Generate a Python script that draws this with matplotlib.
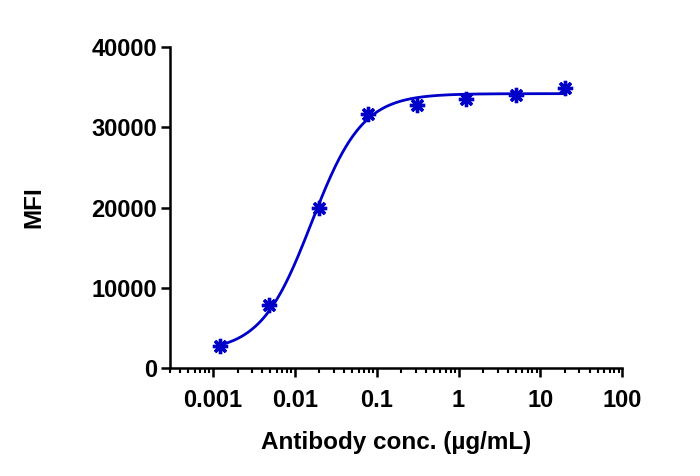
import numpy as np
import matplotlib
matplotlib.use('Agg')
import matplotlib.pyplot as plt
from matplotlib.ticker import LogLocator, FixedLocator, FixedFormatter, NullFormatter

# measured points
conc = [0.00122, 0.00488, 0.0195, 0.078, 0.3125, 1.25, 5, 20]
mfi = [2750, 7830, 19900, 31600, 32830, 33580, 34080, 34920]

# 4PL fit parameters
fit_bottom = 2000
fit_top = 34200
fit_ec50 = 0.016
fit_hill = 1.4

x_ticks = [0.001, 0.01, 0.1, 1, 10, 100]
x_tick_labels = ['0.001', '0.01', '0.1', '1', '10', '100']
y_ticks = [0, 10000, 20000, 30000, 40000]

plt.rcParams['font.family'] = ['Liberation Sans', 'DejaVu Sans']
plt.rcParams['font.weight'] = 'bold'

fig = plt.figure(figsize=(7, 4.76), dpi=100)
ax = fig.add_axes([0.243, 0.227, 0.646, 0.674])

blue = '#0000C8'
xs = np.logspace(np.log10(conc[0]), np.log10(conc[-1]), 300)
ys = fit_bottom + (fit_top - fit_bottom) / (1 + (fit_ec50 / xs) ** fit_hill)
ax.plot(xs, ys, color=blue, lw=2.0, zorder=2)
ax.plot(conc, mfi, ls='none', marker=(8, 2, 0), ms=11, mew=2.4,
        color=blue, zorder=3)
ax.plot(conc, mfi, ls='none', marker='o', ms=6, color=blue, zorder=3)

ax.set_xscale('log')
ax.set_xlim(0.0003, 100)
ax.set_ylim(0, 40000)
ax.xaxis.set_major_locator(FixedLocator(x_ticks))
ax.xaxis.set_major_formatter(FixedFormatter(x_tick_labels))
ax.xaxis.set_minor_locator(LogLocator(base=10, subs=np.arange(2, 10)))
ax.xaxis.set_minor_formatter(NullFormatter())
ax.set_yticks(y_ticks)
ax.set_yticklabels([str(v) for v in y_ticks])

for s in ['top', 'right']:
    ax.spines[s].set_visible(False)
for s in ['left', 'bottom']:
    ax.spines[s].set_linewidth(1.8)

ax.tick_params(axis='both', which='major', length=6.5, width=1.8,
               labelsize=17, pad=3)
ax.tick_params(axis='x', which='minor', length=3.5, width=1.5)
ax.tick_params(axis='x', which='major', pad=9)

ax.set_xlabel('Antibody conc. (µg/mL)', fontsize=17.5, fontweight='bold', labelpad=13)
ax.set_ylabel('MFI', fontsize=17.5, fontweight='bold', labelpad=33)

fig.savefig('out.png', dpi=100)
